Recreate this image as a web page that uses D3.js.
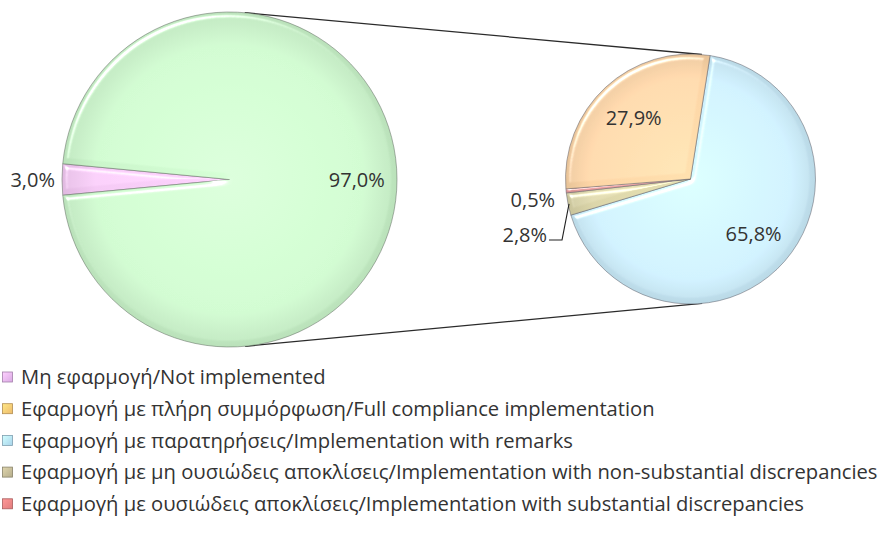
<!DOCTYPE html>
<html>
<head>
<meta charset="utf-8">
<script src="https://cdn.jsdelivr.net/npm/d3@7"></script>
<style>
  html, body { margin: 0; padding: 0; background: #ffffff; }
  svg { display: block; }
  text { font-family: "Open Sans", "Noto Sans", sans-serif; fill: #333333; }
</style>
</head>
<body>
<script>
// ---------------- data ----------------
const categories = [
  "Μη εφαρμογή/Not implemented",
  "Εφαρμογή με πλήρη συμμόρφωση/Full compliance implementation",
  "Εφαρμογή με παρατηρήσεις/Implementation with remarks",
  "Εφαρμογή με μη ουσιώδεις αποκλίσεις/Implementation with non-substantial discrepancies",
  "Εφαρμογή με ουσιώδεις αποκλίσεις/Implementation with substantial discrepancies"
];
const values = [3.0, 27.9, 65.8, 2.8, 0.5];           // % of total
const primaryMembers = [0];                           // shown in the main pie
const secondaryOrder = [2, 3, 4, 1];                  // clockwise order in the secondary pie
const sliceColors  = ["#f5caf5", "#fdd5a6", "#cbedfb", "#dcd6aa", "#eda2a2"];
const legendColors = ["#d9a9e3", "#edbb6c", "#a9d3ea", "#b5ad8c", "#e07b7b"];
const otherColor = "#cbf6cb";

// ---------------- layout ----------------
const W = 880, H = 553;
const P1 = { cx: 229.5, cy: 179.5, r: 167.5 };
const P2 = { cx: 690.5, cy: 179, r: 125 };
const deg = Math.PI / 180;
const fmt = v => d3.format(".1f")(v).replace(".", ",") + "%";

const svg = d3.select("body").append("svg").attr("width", W).attr("height", H);
const defs = svg.append("defs");

// bevel filter (lit from top-left)
const f = defs.append("filter").attr("id", "bevel")
  .attr("x", "-10%").attr("y", "-10%").attr("width", "120%").attr("height", "120%");
f.append("feGaussianBlur").attr("in", "SourceAlpha").attr("stdDeviation", 2.6).attr("result", "blur");
const spec = f.append("feSpecularLighting").attr("in", "blur").attr("surfaceScale", 5)
  .attr("specularConstant", 1.0).attr("specularExponent", 25)
  .attr("lighting-color", "#ffffff").attr("result", "spec");
spec.append("feDistantLight").attr("azimuth", 235).attr("elevation", 35);
f.append("feComposite").attr("in", "spec").attr("in2", "SourceAlpha").attr("operator", "in").attr("result", "specIn");
f.append("feComposite").attr("in", "SourceGraphic").attr("in2", "specIn")
  .attr("operator", "arithmetic").attr("k1", 0).attr("k2", 1).attr("k3", 1).attr("k4", 0);

function radial(id, color, P) {
  const g = defs.append("radialGradient").attr("id", id)
    .attr("gradientUnits", "userSpaceOnUse")
    .attr("cx", P.cx).attr("cy", P.cy).attr("r", P.r);
  const c = d3.color(color);
  g.append("stop").attr("offset", "0%").attr("stop-color", c.brighter(0.15));
  g.append("stop").attr("offset", "80%").attr("stop-color", c);
  g.append("stop").attr("offset", "100%").attr("stop-color", d3.color(color).darker(0.25));
  return `url(#${id})`;
}

// ---------------- connector lines (external tangents) ----------------
(function () {
  const dx = P2.cx - P1.cx, dy = P2.cy - P1.cy, d = Math.hypot(dx, dy);
  const vx = dx / d, vy = dy / d, c = (P1.r - P2.r) / d, s = Math.sqrt(1 - c * c);
  [1, -1].forEach(sg => {
    const nx = vx * c - sg * vy * s, ny = vy * c + sg * vx * s;
    svg.append("line")
      .attr("x1", P1.cx + P1.r * nx).attr("y1", P1.cy + P1.r * ny)
      .attr("x2", P2.cx + P2.r * nx).attr("y2", P2.cy + P2.r * ny)
      .attr("stroke", "#2b2b2b").attr("stroke-width", 1.3);
  });
})();

// ---------------- primary pie ----------------
const otherTotal = d3.sum(secondaryOrder, i => values[i]);
const primaryData = primaryMembers.map(i => ({ idx: i, v: values[i], color: sliceColors[i], label: fmt(values[i]) }))
  .concat([{ idx: -1, v: otherTotal, color: otherColor, label: fmt(otherTotal) }]);
const small = values[primaryMembers[0]] / d3.sum(primaryData, d => d.v) * 360;
const pie1 = d3.pie().sort(null).value(d => d.v)
  .startAngle((270 - small / 2) * deg).endAngle((270 - small / 2 + 360) * deg);
const arcs1 = pie1(primaryData);
const arc1 = d3.arc().innerRadius(0).outerRadius(P1.r);
const g1 = svg.append("g").attr("transform", `translate(${P1.cx},${P1.cy})`);
arcs1.forEach((a, k) => {
  g1.append("path").attr("d", arc1(a))
    .attr("fill", radial("g1_" + k, a.data.color, { cx: 0, cy: 0, r: P1.r }))
    .attr("stroke", "rgba(90,100,90,0.55)").attr("stroke-width", 0.9)
    .attr("filter", "url(#bevel)");
});
// labels
arcs1.forEach(a => {
  const mid = (a.startAngle + a.endAngle) / 2;
  if (a.data.idx === -1) {
    const rr = P1.r * 0.76;
    g1.append("text").attr("x", rr * Math.sin(mid)).attr("y", -rr * Math.cos(mid))
      .attr("dy", "0.36em").attr("text-anchor", "middle").attr("font-size", 20).text(a.data.label);
  } else {
    const rr = P1.r + 7;
    g1.append("text").attr("x", rr * Math.sin(mid)).attr("y", -rr * Math.cos(mid))
      .attr("dy", "0.36em").attr("text-anchor", "end").attr("font-size", 20).text(a.data.label);
  }
});

// ---------------- secondary pie ----------------
const secData = secondaryOrder.map(i => ({ idx: i, v: values[i], color: sliceColors[i], label: fmt(values[i]) }));
const pie2 = d3.pie().sort(null).value(d => d.v).startAngle(9 * deg).endAngle(369 * deg);
const arcs2 = pie2(secData);
const arc2 = d3.arc().innerRadius(0).outerRadius(P2.r);
const g2 = svg.append("g").attr("transform", `translate(${P2.cx},${P2.cy})`);
arcs2.forEach((a, k) => {
  g2.append("path").attr("d", arc2(a))
    .attr("fill", radial("g2_" + k, a.data.color, { cx: 0, cy: 0, r: P2.r }))
    .attr("stroke", "rgba(90,90,100,0.55)").attr("stroke-width", 0.9)
    .attr("filter", "url(#bevel)");
});
arcs2.forEach(a => {
  const mid = (a.startAngle + a.endAngle) / 2;
  const sx = Math.sin(mid), sy = -Math.cos(mid);
  if (a.data.v > 10) {
    const rr = P2.r * 0.67;
    g2.append("text").attr("x", rr * sx).attr("y", rr * sy).attr("dy", "0.36em")
      .attr("text-anchor", "middle").attr("font-size", 20).text(a.data.label);
  } else if (a.data.v < 1) {
    const rr = P2.r + 11;
    g2.append("text").attr("x", rr * sx).attr("y", rr * sy + 8).attr("dy", "0.36em")
      .attr("text-anchor", "end").attr("font-size", 20).text(a.data.label);
  } else {
    const x0 = (P2.r - 1) * sx, y0 = (P2.r - 1) * sy;
    const kx = x0 - 7, ky = y0 + 36, ex = kx - 13;
    g2.append("path").attr("d", `M${x0},${y0}L${kx},${ky}L${ex},${ky}`)
      .attr("fill", "none").attr("stroke", "#222").attr("stroke-width", 1.1);
    g2.append("text").attr("x", ex - 2).attr("y", ky - 5).attr("dy", "0.36em")
      .attr("text-anchor", "end").attr("font-size", 20).text(a.data.label);
  }
});

// ---------------- legend ----------------
const legendY0 = 377, legendStep = 31.7, legendTextX = 21, legendRight = 878;
const lg = svg.append("g");
const items = lg.selectAll("g.item").data(categories).enter().append("g")
  .attr("class", "item").attr("transform", (d, i) => `translate(0,${legendY0 + i * legendStep})`);
items.each(function (d, i) {
  const gid = "lgrad" + i;
  const gr = defs.append("linearGradient").attr("id", gid).attr("x1", 0).attr("y1", 0).attr("x2", 1).attr("y2", 1);
  gr.append("stop").attr("offset", "0%").attr("stop-color", d3.color(legendColors[i]).brighter(0.6));
  gr.append("stop").attr("offset", "100%").attr("stop-color", legendColors[i]);
  d3.select(this).append("rect").attr("x", 2.5).attr("y", -5).attr("width", 10).attr("height", 10)
    .attr("fill", `url(#${gid})`).attr("stroke", d3.color(legendColors[i]).darker(0.8)).attr("stroke-width", 0.8);
});
const ltexts = items.append("text").attr("x", legendTextX).attr("dy", "0.36em")
  .attr("font-size", 19).text(d => d);
// fit font size so the longest entry spans the measured width
let maxW = 0;
ltexts.each(function () { maxW = Math.max(maxW, this.getComputedTextLength()); });
const fs = 19 * (legendRight - legendTextX) / maxW;
ltexts.attr("font-size", fs);
</script>
</body>
</html>
